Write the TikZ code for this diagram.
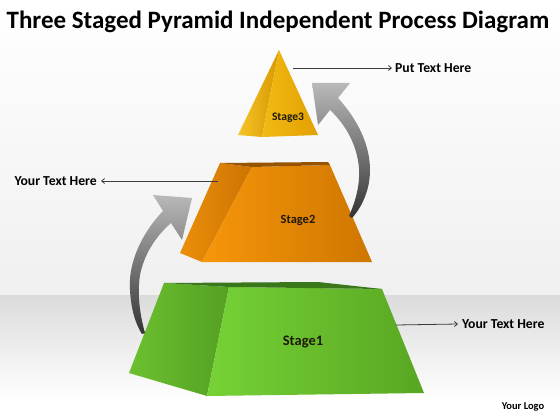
\documentclass[tikz,border=0pt]{standalone}
\usepackage{fontspec}
\setmainfont{Carlito}
\usetikzlibrary{arrows.meta}
\definecolor{gdark}{RGB}{58,118,26}
\definecolor{gleftA}{RGB}{84,160,36}
\definecolor{gleftB}{RGB}{108,192,46}
\definecolor{gfrontA}{RGB}{118,210,54}
\definecolor{gfrontB}{RGB}{88,166,34}
\definecolor{odark}{RGB}{150,84,0}
\definecolor{oleftA}{RGB}{204,116,2}
\definecolor{oleftB}{RGB}{236,142,10}
\definecolor{ofrontA}{RGB}{246,150,10}
\definecolor{ofrontB}{RGB}{206,118,0}
\definecolor{yleftA}{RGB}{214,154,0}
\definecolor{yleftB}{RGB}{246,196,40}
\definecolor{yfrontA}{RGB}{242,186,20}
\definecolor{yfrontB}{RGB}{226,160,0}
\definecolor{linegray}{RGB}{60,60,60}
\tikzset{
  lbl/.style={font=\bfseries\fontsize{13.7}{15}\selectfont, text=black, inner sep=0pt},
  stagelbl/.style={font=\bfseries, text={rgb,255:red,30;green,25;blue,10}, inner sep=0pt},
  conn/.style={draw=linegray, line width=0.8pt, -{Straight Barb[length=3pt,width=5pt]}},
  garrow/.style={top color=gray!55, bottom color=black!80, shading angle=0}
}
\begin{document}
\begin{tikzpicture}[x=1pt,y=-1pt]
\useasboundingbox (0,0) rectangle (560,420);
% background
\fill[white] (0,0) rectangle (560,420);
\shade[top color=white, bottom color=black!6] (0,0) rectangle (560,295);
\shade[top color=black!14, bottom color=white] (0,295) rectangle (560,400);
% title
\node[font=\bfseries\fontsize{25}{28}\selectfont, inner sep=0pt] (title) at (278,22) {Three Staged Pyramid Independent Process Diagram};

% Stage 1 (green)
\shade[left color=gleftB, right color=gleftA] (164,283) -- (229,287) -- (207,396) -- (129,373) -- cycle;
\shade[left color=gfrontA, right color=gfrontB] (229,287) -- (382,289) -- (424,393) -- (207,396) -- cycle;
\fill[gdark] (164,283) -- (318,282) -- (382,289) -- (229,287) -- cycle;
\node[stagelbl, font=\bfseries\fontsize{14.5}{16}\selectfont] (s1) at (303,342) {Stage1};

% Stage 2 (orange)
\shade[left color=oleftB, right color=oleftA] (220,163) -- (252,167) -- (202,262) -- (180,253) -- cycle;
\shade[left color=ofrontA, right color=ofrontB] (252,167) -- (330,165) -- (372,262) -- (202,262) -- cycle;
\fill[odark] (220,163) -- (328,162) -- (330,165) -- (252,167) -- cycle;
\node[stagelbl, font=\bfseries\fontsize{12.5}{14}\selectfont] (s2) at (298,220) {Stage2};

% Stage 3 (yellow)
\shade[left color=yleftB, right color=yleftA] (279,50) -- (262,137) -- (238,135) -- cycle;
\shade[left color=yfrontA, right color=yfrontB] (279,50) -- (318,135) -- (262,137) -- cycle;
\node[stagelbl, font=\bfseries\fontsize{11.5}{13}\selectfont] (s3) at (288,118) {Stage3};

% gray curved arrows
\shade[garrow] (163,211) .. controls (140,235) and (128,265) .. (130,290)
  .. controls (131,310) and (136,325) .. (142,334) -- (145,333)
  .. controls (140,315) and (137,295) .. (140,275)
  .. controls (144,255) and (155,237) .. (171,223)
  -- (182,240) -- (192,198) -- (153,195) -- cycle;
\shade[garrow] (338,98) .. controls (358,120) and (370,145) .. (370,170)
  .. controls (370,190) and (362,207) .. (352,218) -- (349,216)
  .. controls (356,200) and (360,185) .. (359,168)
  .. controls (357,145) and (346,125) .. (330,110)
  -- (318,125) -- (312,83) -- (350,83) -- cycle;

% callouts
\coordinate (c3) at (293,68);
\coordinate (c2) at (218,181);
\coordinate (c1) at (396,325);
\node[lbl, anchor=west] (t3) at (395,68) {Put Text Here};
\node[lbl, anchor=east] (t2) at (97,181) {Your Text Here};
\node[lbl, anchor=west] (t1) at (462,324) {Your Text Here};
\draw[conn] (c3) -- ([xshift=-3pt]t3.west);
\draw[conn] (c2) -- ([xshift=4pt]t2.east);
\draw[conn] (c1) -- ([xshift=-4pt]t1.west);

\node[lbl, font=\bfseries\fontsize{10.5}{12}\selectfont] (logo) at (523,407) {Your Logo};
\end{tikzpicture}
\end{document}
